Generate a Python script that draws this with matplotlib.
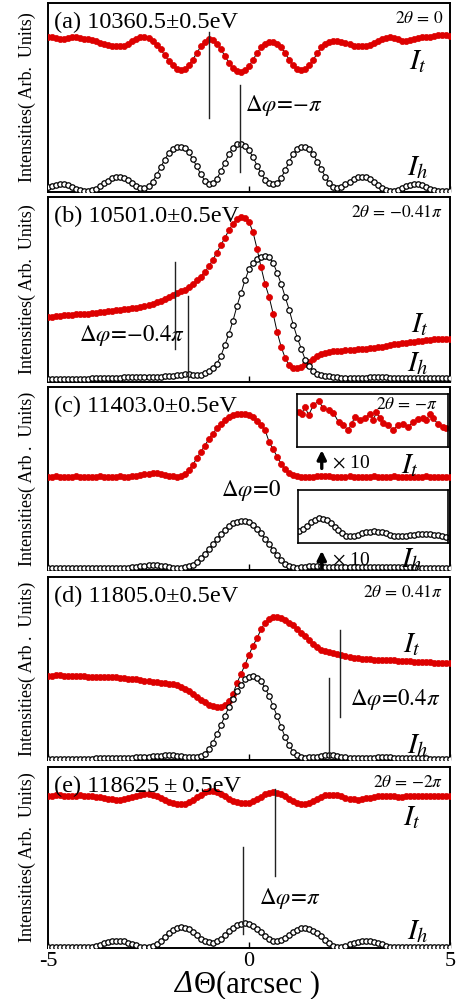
import matplotlib
matplotlib.use("Agg")
import matplotlib.pyplot as plt
import numpy as np
from matplotlib.offsetbox import AnchoredOffsetbox, HPacker, TextArea

plt.rcParams["font.family"] = ["Liberation Serif", "DejaVu Serif"]
plt.rcParams["mathtext.fontset"] = "stix"

# angular offset grid (arcsec), one point every 0.1
THETA = np.round(np.arange(-50, 51) / 10.0, 1)

# (a) 10360.5 eV
A_IT = [0.82, 0.82, 0.815, 0.81, 0.81, 0.815, 0.82, 0.82, 0.815, 0.81,
        0.81, 0.805, 0.80, 0.79, 0.785, 0.78, 0.775, 0.77, 0.77, 0.775,
        0.785, 0.80, 0.81, 0.82, 0.82, 0.815, 0.80, 0.78, 0.755, 0.725,
        0.695, 0.67, 0.65, 0.645, 0.65, 0.67, 0.70, 0.735, 0.77, 0.795,
        0.81, 0.805, 0.785, 0.755, 0.72, 0.685, 0.655, 0.64, 0.635, 0.645,
        0.665, 0.70, 0.735, 0.765, 0.785, 0.795, 0.795, 0.785, 0.765, 0.735,
        0.70, 0.67, 0.65, 0.645, 0.65, 0.67, 0.70, 0.735, 0.765, 0.785,
        0.795, 0.80, 0.80, 0.795, 0.79, 0.785, 0.775, 0.77, 0.77, 0.77,
        0.78, 0.79, 0.80, 0.81, 0.815, 0.82, 0.815, 0.81, 0.80, 0.80,
        0.805, 0.81, 0.815, 0.82, 0.82, 0.82, 0.825, 0.83, 0.83, 0.83, 0.825]
A_IH = [0.025, 0.03, 0.035, 0.04, 0.04, 0.035, 0.025, 0.015, 0.008, 0.005,
        0.005, 0.008, 0.015, 0.03, 0.045, 0.06, 0.072, 0.08, 0.08, 0.075,
        0.062, 0.045, 0.03, 0.02, 0.02, 0.03, 0.055, 0.09, 0.13, 0.17,
        0.205, 0.228, 0.24, 0.24, 0.232, 0.21, 0.175, 0.135, 0.095, 0.06,
        0.042, 0.045, 0.07, 0.11, 0.155, 0.2, 0.235, 0.252, 0.255, 0.245,
        0.22, 0.185, 0.14, 0.1, 0.065, 0.045, 0.04, 0.05, 0.075, 0.115,
        0.16, 0.2, 0.228, 0.24, 0.24, 0.228, 0.2, 0.16, 0.12, 0.08,
        0.045, 0.025, 0.02, 0.025, 0.04, 0.055, 0.07, 0.078, 0.08, 0.078,
        0.068, 0.052, 0.035, 0.02, 0.01, 0.005, 0.005, 0.01, 0.02, 0.03,
        0.038, 0.042, 0.04, 0.035, 0.025, 0.015, 0.008, 0.005, 0.005, 0.005, 0.005]

# (b) 10501.0 eV
B_IT = [0.35, 0.35, 0.355, 0.355, 0.36, 0.36, 0.36, 0.365, 0.365, 0.37,
        0.37, 0.375, 0.375, 0.38, 0.38, 0.385, 0.385, 0.39, 0.39, 0.395,
        0.395, 0.40, 0.40, 0.405, 0.41, 0.415, 0.42, 0.43, 0.44, 0.45,
        0.46, 0.47, 0.48, 0.49, 0.50, 0.515, 0.53, 0.55, 0.57, 0.595,
        0.625, 0.66, 0.70, 0.74, 0.78, 0.82, 0.855, 0.88, 0.89, 0.885,
        0.865, 0.81, 0.72, 0.62, 0.53, 0.46, 0.37, 0.27, 0.19, 0.13,
        0.09, 0.078, 0.075, 0.08, 0.095, 0.11, 0.125, 0.14, 0.15, 0.155,
        0.16, 0.165, 0.167, 0.17, 0.172, 0.174, 0.175, 0.177, 0.178, 0.18,
        0.182, 0.185, 0.188, 0.19, 0.195, 0.20, 0.203, 0.206, 0.21, 0.212,
        0.215, 0.217, 0.22, 0.222, 0.225, 0.227, 0.23, 0.23, 0.232, 0.23, 0.23]
B_IH = [0.015, 0.015, 0.016, 0.016, 0.017, 0.017, 0.017, 0.018, 0.018, 0.018,
        0.018, 0.019, 0.02, 0.02, 0.021, 0.022, 0.022, 0.023, 0.024, 0.025,
        0.025, 0.026, 0.026, 0.027, 0.027, 0.028, 0.028, 0.028, 0.029, 0.03,
        0.031, 0.033, 0.036, 0.04, 0.042, 0.042, 0.04, 0.038, 0.04, 0.05,
        0.06, 0.075, 0.10, 0.14, 0.20, 0.26, 0.33, 0.41, 0.48, 0.55,
        0.61, 0.645, 0.665, 0.675, 0.68, 0.675, 0.645, 0.59, 0.53, 0.46,
        0.39, 0.31, 0.24, 0.18, 0.12, 0.085, 0.06, 0.045, 0.04, 0.035,
        0.03, 0.028, 0.025, 0.022, 0.02, 0.02, 0.02, 0.02, 0.022, 0.024,
        0.026, 0.028, 0.028, 0.027, 0.025, 0.022, 0.02, 0.02, 0.02, 0.02,
        0.02, 0.02, 0.02, 0.02, 0.02, 0.02, 0.02, 0.02, 0.02, 0.02, 0.02]

# (c) 11403.0 eV
C_IT = [0.51, 0.51, 0.512, 0.51, 0.508, 0.51, 0.51, 0.512, 0.51, 0.51,
        0.51, 0.508, 0.51, 0.512, 0.51, 0.51, 0.508, 0.51, 0.512, 0.51,
        0.51, 0.512, 0.515, 0.518, 0.522, 0.525, 0.528, 0.53, 0.525, 0.52,
        0.515, 0.512, 0.51, 0.515, 0.525, 0.545, 0.575, 0.61, 0.645, 0.68,
        0.715, 0.745, 0.775, 0.80, 0.82, 0.835, 0.845, 0.852, 0.855, 0.852,
        0.845, 0.835, 0.815, 0.79, 0.765, 0.70, 0.66, 0.62, 0.58, 0.55,
        0.53, 0.518, 0.512, 0.51, 0.51, 0.51, 0.51, 0.512, 0.515, 0.515,
        0.512, 0.51, 0.508, 0.51, 0.51, 0.512, 0.51, 0.508, 0.508, 0.51,
        0.51, 0.512, 0.51, 0.508, 0.51, 0.51, 0.512, 0.51, 0.508, 0.51,
        0.51, 0.51, 0.508, 0.51, 0.512, 0.51, 0.51, 0.508, 0.51, 0.51, 0.51]
C_IH = [0.012, 0.012, 0.012, 0.012, 0.012, 0.012, 0.012, 0.012, 0.012, 0.012,
        0.012, 0.012, 0.013, 0.012, 0.012, 0.012, 0.013, 0.012, 0.012, 0.012,
        0.013, 0.015, 0.018, 0.021, 0.024, 0.026, 0.027, 0.026, 0.024, 0.02,
        0.016, 0.013, 0.012, 0.012, 0.014, 0.02, 0.03, 0.045, 0.065, 0.09,
        0.115, 0.14, 0.17, 0.195, 0.22, 0.24, 0.255, 0.265, 0.27, 0.268,
        0.26, 0.245, 0.225, 0.2, 0.17, 0.14, 0.11, 0.08, 0.055, 0.035,
        0.022, 0.015, 0.013, 0.014, 0.017, 0.02, 0.022, 0.022, 0.021, 0.019,
        0.017, 0.015, 0.014, 0.014, 0.015, 0.016, 0.017, 0.018, 0.018, 0.017,
        0.016, 0.015, 0.014, 0.014, 0.015, 0.016, 0.016, 0.016, 0.015, 0.014,
        0.014, 0.014, 0.013, 0.013, 0.013, 0.013, 0.013, 0.013, 0.013, 0.012, 0.012]

# (c) x10 insets
INSET_T_X = [1.22, 1.30, 1.38, 1.47, 1.59, 1.72, 1.84, 1.97, 2.09, 2.22,
             2.34, 2.46, 2.55, 2.63, 2.76, 2.88, 3.00, 3.09, 3.17, 3.25,
             3.34, 3.46, 3.59, 3.71, 3.84, 3.96, 4.09, 4.21, 4.34, 4.42,
             4.50, 4.58, 4.71, 4.83, 4.92]
INSET_T_Y = [0.66, 0.63, 0.76, 0.60, 0.79, 0.87, 0.73, 0.70, 0.65, 0.47,
             0.41, 0.32, 0.44, 0.57, 0.51, 0.54, 0.63, 0.51, 0.66, 0.54,
             0.46, 0.41, 0.32, 0.41, 0.44, 0.38, 0.47, 0.52, 0.54, 0.51,
             0.62, 0.54, 0.44, 0.38, 0.35]
INSET_H_X = [1.2, 1.3, 1.4, 1.5, 1.6, 1.7, 1.8, 1.9, 2.0, 2.1,
             2.2, 2.3, 2.4, 2.5, 2.6, 2.7, 2.8, 2.9, 3.0, 3.1,
             3.2, 3.3, 3.4, 3.5, 3.6, 3.7, 3.8, 3.9, 4.0, 4.1,
             4.2, 4.3, 4.4, 4.5, 4.6, 4.7, 4.8, 4.9]
INSET_H_Y = [0.22, 0.27, 0.33, 0.39, 0.44, 0.47, 0.46, 0.43, 0.37, 0.31,
             0.25, 0.19, 0.14, 0.125, 0.135, 0.155, 0.18, 0.2, 0.215, 0.22,
             0.215, 0.2, 0.18, 0.155, 0.13, 0.125, 0.13, 0.14, 0.15, 0.16,
             0.17, 0.175, 0.175, 0.17, 0.16, 0.145, 0.125, 0.11]

# (d) 11805.0 eV
D_IT = [0.46, 0.46, 0.462, 0.462, 0.46, 0.46, 0.46, 0.458, 0.458, 0.458,
        0.456, 0.455, 0.455, 0.455, 0.456, 0.456, 0.455, 0.452, 0.45, 0.447,
        0.445, 0.442, 0.44, 0.437, 0.434, 0.43, 0.428, 0.425, 0.422, 0.42,
        0.418, 0.415, 0.41, 0.40, 0.39, 0.375, 0.36, 0.345, 0.33, 0.315,
        0.30, 0.295, 0.29, 0.29, 0.30, 0.325, 0.36, 0.42, 0.47, 0.52,
        0.575, 0.625, 0.665, 0.715, 0.75, 0.77, 0.78, 0.78, 0.775, 0.765,
        0.75, 0.735, 0.715, 0.695, 0.675, 0.655, 0.635, 0.615, 0.60, 0.595,
        0.59, 0.585, 0.58, 0.575, 0.57, 0.565, 0.56, 0.555, 0.553, 0.55,
        0.55, 0.548, 0.547, 0.546, 0.545, 0.545, 0.544, 0.543, 0.542, 0.54,
        0.54, 0.538, 0.537, 0.535, 0.535, 0.533, 0.532, 0.532, 0.53, 0.53, 0.528]
D_IH = [0.008, 0.008, 0.008, 0.008, 0.008, 0.008, 0.008, 0.008, 0.008, 0.008,
        0.008, 0.008, 0.009, 0.009, 0.01, 0.01, 0.01, 0.01, 0.01, 0.011,
        0.012, 0.013, 0.014, 0.015, 0.016, 0.018, 0.02, 0.022, 0.024, 0.025,
        0.026, 0.025, 0.023, 0.02, 0.017, 0.015, 0.014, 0.015, 0.02, 0.035,
        0.06, 0.095, 0.14, 0.19, 0.24, 0.29, 0.335, 0.375, 0.41, 0.44,
        0.455, 0.46, 0.45, 0.43, 0.395, 0.35, 0.295, 0.24, 0.18, 0.125,
        0.08, 0.045, 0.025, 0.015, 0.013, 0.014, 0.016, 0.019, 0.022, 0.025,
        0.026, 0.025, 0.022, 0.018, 0.015, 0.012, 0.011, 0.01, 0.01, 0.011,
        0.012, 0.013, 0.015, 0.016, 0.016, 0.015, 0.013, 0.011, 0.01, 0.01,
        0.01, 0.01, 0.009, 0.009, 0.009, 0.008, 0.008, 0.008, 0.008, 0.008, 0.008]

# (e) 11862.5 eV
E_IT = [0.84, 0.842, 0.843, 0.843, 0.842, 0.84, 0.84, 0.842, 0.843, 0.842,
        0.84, 0.838, 0.835, 0.832, 0.828, 0.824, 0.821, 0.82, 0.82, 0.823,
        0.828, 0.835, 0.842, 0.847, 0.85, 0.85, 0.846, 0.838, 0.828, 0.817,
        0.807, 0.80, 0.796, 0.795, 0.797, 0.805, 0.818, 0.832, 0.847, 0.86,
        0.866, 0.867, 0.862, 0.852, 0.838, 0.824, 0.812, 0.804, 0.80, 0.80,
        0.803, 0.81, 0.822, 0.836, 0.849, 0.857, 0.86, 0.858, 0.85, 0.838,
        0.824, 0.811, 0.801, 0.796, 0.795, 0.80, 0.81, 0.823, 0.835, 0.844,
        0.848, 0.848, 0.845, 0.838, 0.83, 0.824, 0.821, 0.82, 0.822, 0.826,
        0.83, 0.835, 0.838, 0.84, 0.841, 0.84, 0.838, 0.837, 0.837, 0.838,
        0.84, 0.841, 0.842, 0.842, 0.841, 0.84, 0.84, 0.84, 0.841, 0.84, 0.84]
E_IH = [0.005, 0.006, 0.007, 0.007, 0.006, 0.005, 0.004, 0.004, 0.004, 0.005,
        0.006, 0.008, 0.012, 0.018, 0.025, 0.032, 0.037, 0.04, 0.04, 0.037,
        0.03, 0.022, 0.014, 0.008, 0.005, 0.005, 0.01, 0.022, 0.04, 0.062,
        0.083, 0.1, 0.111, 0.115, 0.113, 0.104, 0.088, 0.07, 0.052, 0.038,
        0.031, 0.03, 0.036, 0.05, 0.07, 0.092, 0.112, 0.127, 0.135, 0.137,
        0.133, 0.122, 0.106, 0.087, 0.067, 0.05, 0.04, 0.038, 0.045, 0.058,
        0.074, 0.09, 0.102, 0.109, 0.11, 0.106, 0.096, 0.082, 0.064, 0.045,
        0.026, 0.012, 0.005, 0.006, 0.012, 0.02, 0.028, 0.034, 0.038, 0.04,
        0.039, 0.035, 0.028, 0.02, 0.013, 0.008, 0.005, 0.004, 0.004, 0.005,
        0.006, 0.007, 0.007, 0.006, 0.005, 0.004, 0.004, 0.004, 0.005, 0.005, 0.004]

ENERGY_LABELS = ["(a) 10360.5\u00b10.5eV", "(b) 10501.0\u00b10.5eV",
                 "(c) 11403.0\u00b10.5eV", "(d) 11805.0\u00b10.5eV",
                 "(e) 118625\u2009\u00b1\u20090.5eV"]
TWO_THETA = [r"$2\theta\,=\,0$", r"$2\theta\,=\,{-}0.41\pi$", r"$2\theta\,=\,{-}\pi$",
             r"$2\theta\,=\,0.41\pi$", r"$2\theta\,=\,{-}2\pi$"]
DPHI = [r"$\Delta\varphi\!=\!{-}\pi$", r"$\Delta\varphi\!=\!{-}0.4\pi$",
        r"$\Delta\varphi\!=\!0$", r"$\Delta\varphi\!=\!0.4\pi$",
        r"$\Delta\varphi\!=\!\pi$"]
YLABELS = ["Intensities( Arb.  Units)", "Intensities( Arb.  Units)",
           "Intensities( Arb .  Units)", "Intensities( Arb .  Units)",
           "Intensities( Arb.  Units)"]

# phase marker lines: (x, y0, y1)
PHASE_LINES = [[(-1.0, 0.39, 0.847), (-0.22, 0.106, 0.566)],
               [(-1.84, 0.18, 0.65), (-1.51, 0.0, 0.465)],
               [],
               [(2.26, 0.235, 0.71), (1.98, 0.0, 0.45)],
               [(0.64, 0.40, 0.88), (-0.14, 0.08, 0.56)]]
DPHI_POS = [(-0.11, 0.46), (-4.23, 0.254), (-0.69, 0.437), (2.51, 0.33), (0.26, 0.276)]
IT_POS = [(4.2, 0.69), (4.25, 0.31), (4.0, 0.57), (4.05, 0.63), (4.05, 0.72)]
IH_POS = [(4.2, 0.13), (4.2, 0.10), (4.05, 0.055), (4.2, 0.08), (4.2, 0.09)]

# panel boxes in pixels (top, bottom)
PANEL_PX = [(3, 192), (197, 382), (387, 570), (577, 760), (767, 948)]

RED = "#dd0000"
W, H = 457, 999


def up_arrow(ax, x, y0, y1):
    ax.annotate("", xy=(x, y1), xytext=(x, y0),
                arrowprops=dict(arrowstyle="-|>", color="k", lw=2.4,
                                mutation_scale=13, shrinkA=0, shrinkB=0))


def main():
    fig = plt.figure(figsize=(W / 100, H / 100), dpi=100)
    left = 48 / W
    width = 402 / W

    series = [(A_IT, A_IH), (B_IT, B_IH), (C_IT, C_IH), (D_IT, D_IH), (E_IT, E_IH)]

    for i, (top, bot) in enumerate(PANEL_PX):
        ax = fig.add_axes([left, 1 - bot / H, width, (bot - top) / H])
        it, ih = series[i]
        ax.plot(THETA, it, "-o", color="k", lw=0.7, ms=4.4,
                mfc=RED, mec=RED, mew=0.5, zorder=3)
        ax.plot(THETA, ih, "-o", color="k", lw=0.7, ms=3.9,
                mfc="white", mec="k", mew=0.9, zorder=3)

        for x, y0, y1 in PHASE_LINES[i]:
            ax.plot([x, x], [y0, y1], color="#222222", lw=1.0, zorder=4)

        ax.set_xlim(-5, 5)
        ax.set_ylim(0, 1)
        ax.set_yticks([])
        ax.set_xticks([-5, 0, 5])
        ax.tick_params(axis="x", direction="in", length=4, width=1,
                       labelsize=16, pad=3, labelbottom=(i == 4))
        if i == 4:
            ax.set_xticklabels(["-5", "0", "5"])
        for sp in ax.spines.values():
            sp.set_linewidth(1.4)

        h = bot - top
        ax.text(0.015, 1 - 19 / h, ENERGY_LABELS[i], transform=ax.transAxes,
                fontsize=17.5, ha="left", va="center")
        if i != 2:
            ax.text(0.983, 1 - 16 / h, TWO_THETA[i], transform=ax.transAxes,
                    fontsize=12.5, ha="right", va="center")
        ax.text(*DPHI_POS[i], DPHI[i], fontsize=16.5, ha="left", va="center")
        ax.text(*IT_POS[i], r"$I_t$", fontsize=21, ha="center", va="center")
        ax.text(*IH_POS[i], r"$I_h$", fontsize=21, ha="center", va="center")

        fig.text(27 / W, 1 - (top + bot) / 2 / H, YLABELS[i], rotation=90,
                 fontsize=13, ha="center", va="center")

        if i == 2:
            up_arrow(ax, 1.81, 0.555, 0.655)
            ax.text(2.06, 0.585, r"$\times$ 10", fontsize=14, ha="left", va="center")
            up_arrow(ax, 1.81, 0.012, 0.105)
            ax.text(2.06, 0.055, r"$\times$ 10", fontsize=14, ha="left", va="center")

    # x10 insets of panel (c)
    axi = fig.add_axes([297 / W, 1 - 447 / H, 151 / W, 53 / H])
    axi.plot(INSET_T_X, INSET_T_Y, "-o", color="k", lw=0.7, ms=4.4,
             mfc=RED, mec=RED, mew=0.5)
    axi.set_xlim(1.18, 4.96)
    axi.set_ylim(0, 1)
    axi.set_xticks([])
    axi.set_yticks([])
    axi.text(0.93, 0.79, TWO_THETA[2], transform=axi.transAxes,
             fontsize=12.5, ha="right", va="center")

    axj = fig.add_axes([298 / W, 1 - 543 / H, 150 / W, 53 / H])
    axj.plot(INSET_H_X, INSET_H_Y, "-o", color="k", lw=0.7, ms=3.9,
             mfc="white", mec="k", mew=0.9)
    axj.set_xlim(1.18, 4.96)
    axj.set_ylim(0, 1)
    axj.set_xticks([])
    axj.set_yticks([])
    for a in (axi, axj):
        for sp in a.spines.values():
            sp.set_linewidth(1.2)

    # x label, italic delta followed by upright theta
    xlab = HPacker(children=[TextArea("\u0394", textprops=dict(fontsize=22, style="italic")),
                             TextArea("\u0398(arcsec )", textprops=dict(fontsize=22))],
                   align="baseline", pad=0, sep=1)
    box = AnchoredOffsetbox(loc="lower center", child=xlab, pad=0, borderpad=0,
                            frameon=False, bbox_to_anchor=(247 / W, 0.0),
                            bbox_transform=fig.transFigure)
    fig.add_artist(box)

    fig.savefig("out.png", dpi=100)
    plt.close(fig)


if __name__ == "__main__":
    main()
